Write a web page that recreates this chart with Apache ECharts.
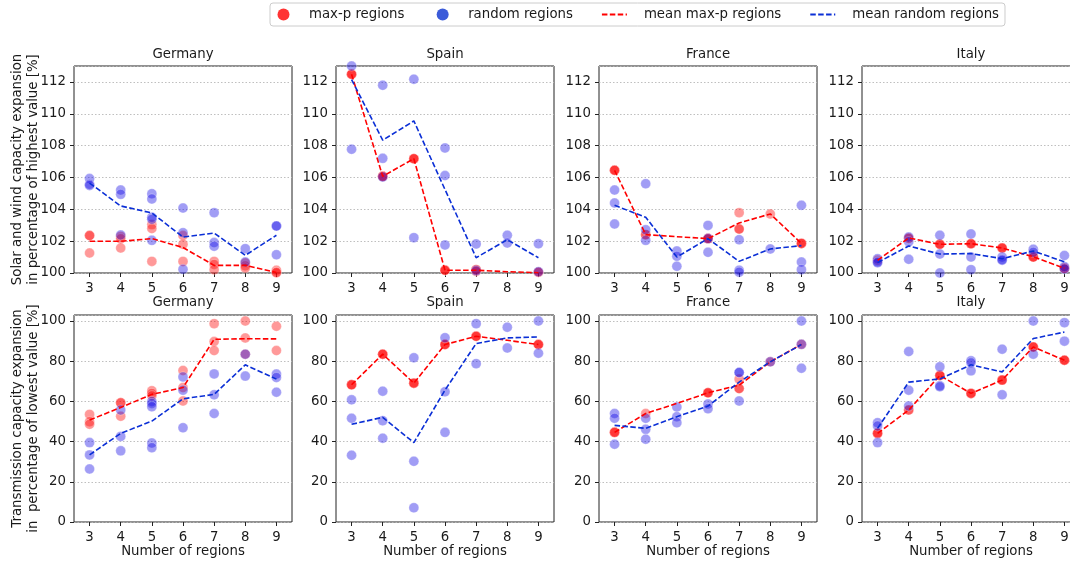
<!DOCTYPE html>
<html>
<head>
<meta charset="utf-8">
<script src="https://cdn.jsdelivr.net/npm/echarts@6/dist/echarts.min.js"></script>
<style>html,body{margin:0;padding:0;background:#fff;overflow:hidden;width:1070px;height:563px;}#c{width:1090px;height:563px;}</style>
</head>
<body>
<div id="c"></div>
<script>
// ---------------- DATA ----------------
const cats = ['3', '4', '5', '6', '7', '8', '9'];
const countries = ['Germany', 'Spain', 'France', 'Italy'];
const legendNames = ['max-p regions', 'random regions', 'mean max-p regions', 'mean random regions'];
const topYLabel = ['Solar and wind capacity expansion', 'in percentage of highest value [%]'];
const botYLabel = ['Transmission capacity expansion', 'in  percentage of lowest value [%]'];
const xLabel = 'Number of regions';

// Solar & wind capacity expansion (top row); points listed per number of regions 3..9
const deSolarMaxp = [[102.35, 102.35, 101.26], [102.3, 102.15, 101.57], [103.04, 102.79, 100.73], [102.35, 101.8, 100.73], [100.73, 100.54, 100.21], [100.63, 100.45, 100.31], [100.17, 100.05, 100.02]];
const deSolarRandom = [[105.93, 105.57, 105.5], [105.21, 104.94, 102.39], [104.98, 104.65, 103.5, 103.37, 102.05], [104.08, 102.53, 100.23], [103.79, 101.91, 101.68], [101.53, 100.69], [102.95, 102.95, 101.15]];
const deSolarMeanMaxp = [101.99, 101.99, 102.16, 101.6, 100.48, 100.48, 100.03];
const deSolarMeanRandom = [105.65, 104.21, 103.77, 102.26, 102.51, 101.11, 102.37];

const esSolarMaxp = [[112.48, 112.48, 112.48], [106.07, 106.07, 106.07], [107.18, 107.18, 107.18], [100.17, 100.17, 100.17], [100.21, 100.21, 100.1], [], [100.05, 100.05]];
const esSolarRandom = [[113.0, 107.77], [111.79, 107.2, 106.03], [112.17, 102.22], [107.85, 106.12, 101.76], [101.82, 100.15], [102.37, 101.88], [101.84, 100.08]];
const esSolarMeanMaxp = [112.48, 106.07, 107.18, 100.17, 100.17, 100.08, 100.02];
const esSolarMeanRandom = [112.15, 108.34, 109.55, 105.24, 100.96, 102.09, 100.96];

const frSolarMaxp = [[106.45, 106.45, 106.45], [102.41, 102.41], [], [102.16, 102.16, 102.16], [103.79, 102.76, 102.76], [103.71], [101.86, 101.86, 101.86]];
const frSolarRandom = [[105.21, 104.4, 103.08], [105.61, 102.72, 102.05], [101.38, 101.05, 100.42], [102.99, 102.16, 101.3], [102.09, 100.17, 100.05], [101.51], [104.25, 100.69, 100.21]];
const frSolarMeanMaxp = [106.45, 102.41, 102.28, 102.16, 103.14, 103.71, 101.86];
const frSolarMeanRandom = [104.25, 103.5, 101.0, 102.16, 100.73, 101.51, 101.72];

const itSolarMaxp = [[100.8], [102.18, 102.18], [101.8, 101.8, 101.8], [101.84, 101.84, 101.84], [101.57, 101.57, 101.57], [101.0, 101.0, 101.0], [100.3, 100.3, 100.3]];
const itSolarRandom = [[100.9, 100.7, 100.65], [102.26, 101.97, 100.86], [102.37, 101.19, 100.0], [102.45, 101.0, 100.21], [101.0, 100.85, 100.8], [101.49, 101.3], [101.1, 100.4, 100.25]];
const itSolarMeanMaxp = [100.8, 102.2, 101.8, 101.84, 101.57, 101.02, 100.3];
const itSolarMeanRandom = [100.65, 101.7, 101.19, 101.22, 100.9, 101.38, 100.7];

// Transmission capacity expansion (bottom row)
const deTransMaxp = [[53.55, 49.9, 48.6], [59.3, 59.3, 52.6], [65.3, 64.0, 62.8], [75.4, 66.9, 60.2], [98.7, 89.8, 85.3], [100, 91.6, 83.5], [97.4, 85.3]];
const deTransRandom = [[39.5, 33.4, 26.4], [55.7, 42.6, 35.4], [60.0, 59.0, 57.4, 39.3, 37.0], [72.2, 65.6, 46.9], [73.7, 63.3, 54.0], [83.5, 72.6], [73.6, 71.9, 64.6]];
const deTransMeanMaxp = [50.7, 57.0, 63.5, 66.9, 90.9, 91.2, 91.1];
const deTransMeanRandom = [33.4, 44.1, 50.2, 61.3, 63.5, 78.2, 71.1];

const esTransMaxp = [[68.3, 68.3, 68.3], [83.5, 83.5, 83.5], [69.1, 69.1, 69.1], [88.3, 88.3, 88.3], [92.4, 92.4, 92.4], [], [88.3, 88.3, 88.3]];
const esTransRandom = [[60.8, 51.6, 33.2], [65.1, 50.4, 41.7], [81.7, 30.2, 7.1], [91.7, 64.8, 44.6], [98.7, 78.8], [96.9, 86.6], [100, 84.0]];
const esTransMeanMaxp = [68.3, 83.5, 69.1, 88.3, 92.4, 90.4, 88.3];
const esTransMeanRandom = [48.6, 52.1, 39.5, 65.6, 88.8, 91.6, 92.1];

const frTransMaxp = [[44.6, 44.6, 44.6], [54.0], [], [64.3, 64.3, 64.3], [71.1, 66.4, 66.4], [79.7], [88.4]];
const frTransRandom = [[54.0, 51.6, 38.7], [51.6, 46.1, 41.2], [57.2, 52.4, 49.4], [58.7, 56.4], [74.4, 74.4, 60.2], [79.7], [100, 88.4, 76.5]];
const frTransMeanMaxp = [44.6, 54.0, 59.0, 64.3, 68.1, 79.7, 88.4];
const frTransMeanRandom = [48.1, 46.6, 52.4, 57.7, 69.6, 79.7, 88.3];

const itTransMaxp = [[44.1, 44.1, 44.1], [55.7, 55.7], [72.9, 72.9, 72.9], [64.0, 64.0, 64.0], [70.6, 70.6, 70.6], [87.1, 87.1, 87.1], [80.5, 80.5, 80.5]];
const itTransRandom = [[49.4, 47.8, 39.5], [84.8, 65.6, 57.7], [77.2, 67.8, 67.3], [80.2, 79.2, 75.2], [86.0, 63.3], [100, 83.5], [99.2, 90.0]];
const itTransMeanMaxp = [44.1, 55.7, 72.9, 64.0, 70.6, 87.1, 80.5];
const itTransMeanRandom = [46.6, 69.6, 71.2, 78.2, 74.7, 91.3, 94.5];

// ---------------- BUILD ----------------
const panelsData = [
  [deSolarMaxp, deSolarRandom, deSolarMeanMaxp, deSolarMeanRandom],
  [esSolarMaxp, esSolarRandom, esSolarMeanMaxp, esSolarMeanRandom],
  [frSolarMaxp, frSolarRandom, frSolarMeanMaxp, frSolarMeanRandom],
  [itSolarMaxp, itSolarRandom, itSolarMeanMaxp, itSolarMeanRandom],
  [deTransMaxp, deTransRandom, deTransMeanMaxp, deTransMeanRandom],
  [esTransMaxp, esTransRandom, esTransMeanMaxp, esTransMeanRandom],
  [frTransMaxp, frTransRandom, frTransMeanMaxp, frTransMeanRandom],
  [itTransMaxp, itTransRandom, itTransMeanMaxp, itTransMeanRandom]
];

function pts(arr) {
  const out = [];
  arr.forEach((vals, i) => vals.forEach(v => out.push([cats[i], v])));
  return out;
}

const FONT = 'DejaVu Sans';
const TXT = '#1a1a1a';
const FS = 13.3;
const RED_PT = 'rgba(255,0,0,0.5)';
const BLUE_PT = 'rgba(20,10,230,0.5)';
const RED_LINE = '#ff0000';
const BLUE_LINE = '#0b2fd6';
const DASH = [5.5, 2.4];

const lefts = [74, 336, 599, 862];
const W = 218;
const tops = [66, 315];
const H = 207;

const grids = [], xAxes = [], yAxes = [], series = [], titles = [];
for (let p = 0; p < 8; p++) {
  const row = p < 4 ? 0 : 1;
  const col = p % 4;
  grids.push({left: lefts[col], top: tops[row], width: W, height: H, show: true,
    borderColor: '#222', borderWidth: 1, backgroundColor: 'transparent', containLabel: false});
  xAxes.push({type: 'category', gridIndex: p, data: cats, boundaryGap: true,
    axisLine: {show: false},
    axisTick: {show: true, alignWithLabel: true, length: 4, lineStyle: {color: '#222'}},
    axisLabel: {color: TXT, fontSize: FS, fontFamily: FONT, margin: 9},
    splitLine: {show: false},
    name: row === 1 ? xLabel : '', nameLocation: 'middle', nameGap: 23,
    nameTextStyle: {color: TXT, fontSize: FS, fontFamily: FONT}});
  yAxes.push(row === 0 ? {
    type: 'value', gridIndex: p, min: 100, max: 113, interval: 2,
    axisLine: {show: false},
    axisTick: {show: true, length: 4, lineStyle: {color: '#222'}},
    axisLabel: {color: TXT, fontSize: FS, fontFamily: FONT, margin: 8, showMaxLabel: false},
    splitLine: {show: true, lineStyle: {color: '#b8b8b8', type: [1.5, 2], width: 0.9}}
  } : {
    type: 'value', gridIndex: p, min: 0, max: 103, interval: 20,
    axisLine: {show: false},
    axisTick: {show: true, length: 4, lineStyle: {color: '#222'}},
    axisLabel: {color: TXT, fontSize: FS, fontFamily: FONT, margin: 8, showMaxLabel: false},
    splitLine: {show: true, lineStyle: {color: '#b8b8b8', type: [1.5, 2], width: 0.9}}
  });
  titles.push({text: countries[col], left: lefts[col] + W / 2, textAlign: 'center',
    top: row === 0 ? 48 : 296, padding: 0,
    textStyle: {color: TXT, fontSize: FS, fontWeight: 'normal', fontFamily: FONT}});
  const d = panelsData[p];
  series.push({name: legendNames[0], type: 'scatter', xAxisIndex: p, yAxisIndex: p,
    data: pts(d[0]), symbolSize: 10, clip: false, z: 2,
    itemStyle: {color: RED_PT, borderColor: 'rgba(255,255,255,0.6)', borderWidth: 0.6}});
  series.push({name: legendNames[1], type: 'scatter', xAxisIndex: p, yAxisIndex: p,
    data: pts(d[1]), symbolSize: 10, clip: false, z: 2,
    itemStyle: {color: BLUE_PT, borderColor: 'rgba(255,255,255,0.6)', borderWidth: 0.6}});
  series.push({name: legendNames[2], type: 'line', xAxisIndex: p, yAxisIndex: p,
    data: d[2], symbol: 'none', z: 4, animation: false,
    itemStyle: {color: RED_LINE},
    lineStyle: {color: RED_LINE, width: 1.6, type: DASH}});
  series.push({name: legendNames[3], type: 'line', xAxisIndex: p, yAxisIndex: p,
    data: d[3], symbol: 'none', z: 4, animation: false,
    itemStyle: {color: BLUE_LINE},
    lineStyle: {color: BLUE_LINE, width: 1.6, type: DASH}});
}

const graphics = [];
function vText(lines, cy) {
  const xs = [18, 34];
  lines.forEach((t, i) => graphics.push({type: 'text', x: xs[i], y: cy, rotation: Math.PI / 2,
    style: {text: t, fill: TXT, font: FS + 'px "' + FONT + '"', align: 'center', verticalAlign: 'middle'}}));
}
vText(topYLabel, tops[0] + H / 2);
vText(botYLabel, tops[1] + H / 2);

const legendText = {};
legendText[legendNames[0]] = '{a| }' + legendNames[0] + '{c| }';
legendText[legendNames[1]] = '{a| }' + legendNames[1];
legendText[legendNames[2]] = '{b| }' + legendNames[2];
legendText[legendNames[3]] = '{b| }' + legendNames[3];

const chart = echarts.init(document.getElementById('c'), null, {renderer: 'canvas'});
chart.setOption({
  animation: false,
  backgroundColor: '#fff',
  title: titles,
  grid: grids,
  xAxis: xAxes,
  yAxis: yAxes,
  series: series,
  graphic: graphics,
  legend: {
    left: 270, top: 3, padding: [5, 6, 5, 7.5], itemGap: 28, itemWidth: 25, itemHeight: 12,
    borderColor: '#cccccc', borderWidth: 1, borderRadius: 3, selectedMode: false,
    formatter: name => legendText[name],
    textStyle: {color: TXT, fontSize: FS, fontFamily: FONT,
      rich: {a: {width: 8, fontSize: FS}, b: {width: 12, fontSize: FS}, c: {width: 5, fontSize: FS}}},
    data: [
      {name: legendNames[0], icon: 'circle', itemStyle: {color: '#ff0000', borderWidth: 0}},
      {name: legendNames[1], icon: 'circle', itemStyle: {color: '#0a32d0', borderWidth: 0}},
      {name: legendNames[2], itemStyle: {opacity: 0}},
      {name: legendNames[3], itemStyle: {opacity: 0}}
    ]
  }
});
</script>
</body>
</html>
